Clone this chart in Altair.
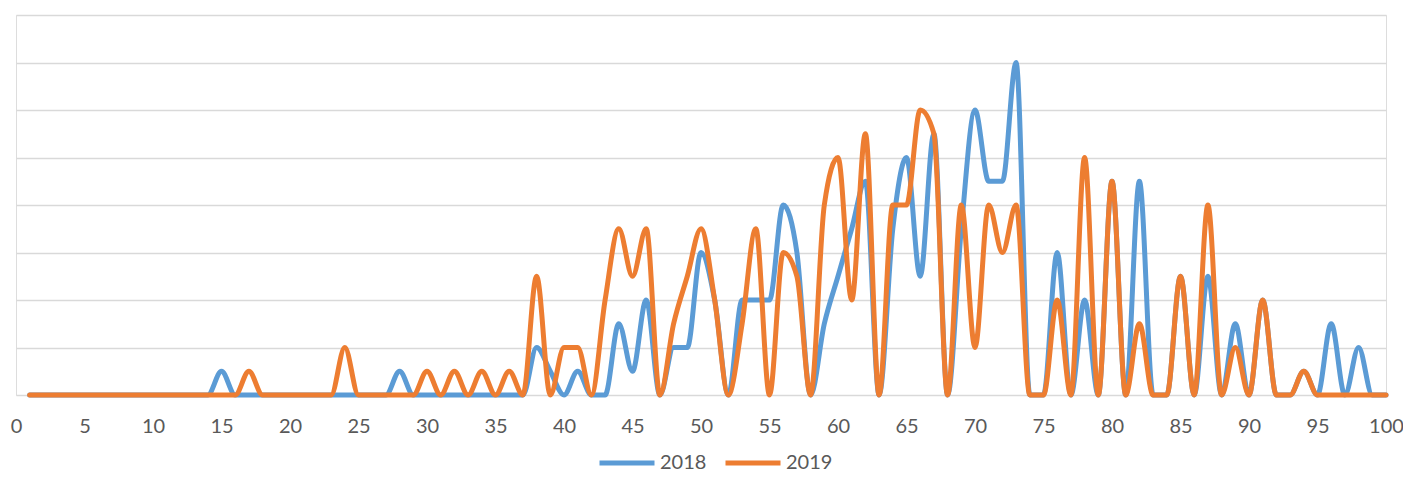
import altair as alt
import pandas as pd

x_values = list(range(1, 101))

series_2018 = [
    0, 0, 0, 0, 0, 0, 0, 0, 0, 0,      # 1-10
    0, 0, 0, 0, 1, 0, 0, 0, 0, 0,      # 11-20
    0, 0, 0, 0, 0, 0, 0, 1, 0, 0,      # 21-30
    0, 0, 0, 0, 0, 0, 0, 2, 1, 0,      # 31-40
    1, 0, 0, 3, 1, 4, 0, 2, 2, 6,      # 41-50
    4, 0, 4, 4, 4, 8, 6, 0, 3, 5,      # 51-60
    7, 9, 0, 7, 10, 5, 11, 0, 7, 12,   # 61-70
    9, 9, 14, 0, 0, 6, 0, 4, 0, 9,     # 71-80
    0, 9, 0, 0, 5, 0, 5, 0, 3, 0,      # 81-90
    4, 0, 0, 1, 0, 3, 0, 2, 0, 0,      # 91-100
]

series_2019 = [
    0, 0, 0, 0, 0, 0, 0, 0, 0, 0,      # 1-10
    0, 0, 0, 0, 0, 0, 1, 0, 0, 0,      # 11-20
    0, 0, 0, 2, 0, 0, 0, 0, 0, 1,      # 21-30
    0, 1, 0, 1, 0, 1, 0, 5, 0, 2,      # 31-40
    2, 0, 4, 7, 5, 7, 0, 3, 5, 7,      # 41-50
    4, 0, 3, 7, 0, 6, 5, 0, 8, 10,     # 51-60
    4, 11, 0, 8, 8, 12, 11, 0, 8, 2,   # 61-70
    8, 6, 8, 0, 0, 4, 0, 10, 0, 9,     # 71-80
    0, 3, 0, 0, 5, 0, 8, 0, 2, 0,      # 81-90
    4, 0, 0, 1, 0, 0, 0, 0, 0, 0,      # 91-100
]

series_names = ["2018", "2019"]
series_colors = ["#5B9BD5", "#ED7D31"]
x_ticks = list(range(0, 101, 5))
y_grid = list(range(0, 17, 2))

rows = []
for name, vals in zip(series_names, [series_2018, series_2019]):
    for xv, yv in zip(x_values, vals):
        rows.append({"x": xv, "value": yv, "series": name})
df = pd.DataFrame(rows)

FONT = "Lato"
TEXT = "#595959"

chart = (
    alt.Chart(df)
    .mark_line(interpolate="monotone", strokeWidth=5, strokeJoin="round", strokeCap="round")
    .encode(
        x=alt.X(
            "x:Q",
            scale=alt.Scale(domain=[0, 100], nice=False, zero=False),
            axis=alt.Axis(
                values=x_ticks,
                title=None,
                grid=False,
                ticks=False,
                domain=False,
                labelFont=FONT,
                labelFontSize=20,
                labelColor=TEXT,
                labelPadding=21,
                labelFlush=False,
            ),
        ),
        y=alt.Y(
            "value:Q",
            scale=alt.Scale(domain=[0, 16], nice=False),
            axis=alt.Axis(
                values=y_grid,
                title=None,
                labels=False,
                ticks=False,
                domain=False,
                grid=True,
                gridColor="#D9D9D9",
                gridWidth=1.5,
            ),
        ),
        color=alt.Color(
            "series:N",
            scale=alt.Scale(domain=series_names, range=series_colors),
            legend=alt.Legend(
                title=None,
                orient="none",
                direction="horizontal",
                legendX=581,
                legendY=418,
                symbolType="stroke",
                symbolSize=3025,
                symbolStrokeWidth=5,
                labelFont=FONT,
                labelFontSize=20,
                labelColor=TEXT,
                labelOffset=3,
                columnPadding=8,
            ),
        ),
        order=alt.Order("x:Q"),
    )
    .properties(
        width=1370,
        height=380,
        autosize=alt.AutoSizeParams(type="none"),
        padding={"left": 8, "top": 7, "right": 17, "bottom": 80},
    )
    .configure_view(strokeWidth=0)
    .configure(background="white")
)

chart.save("out.html", embed_options={"renderer": "svg", "actions": False})
